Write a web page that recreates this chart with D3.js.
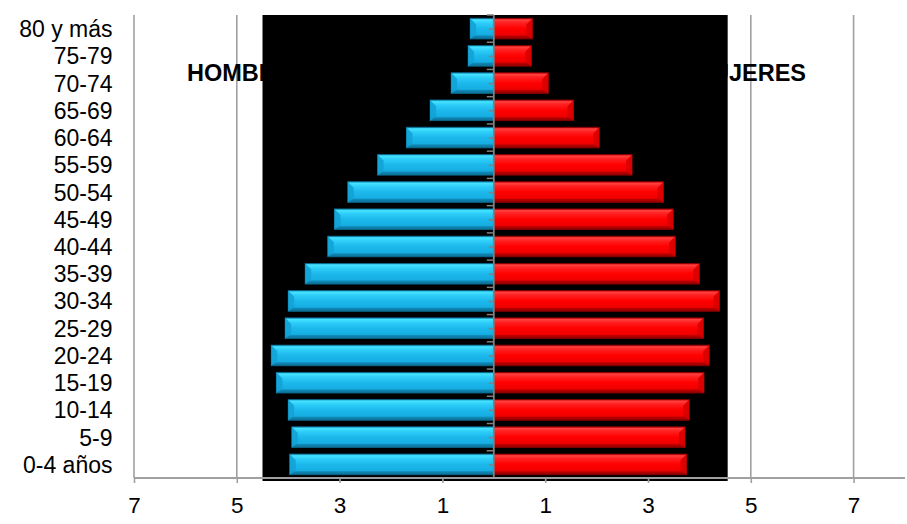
<!DOCTYPE html>
<html>
<head>
<meta charset="utf-8">
<script src="https://cdn.jsdelivr.net/npm/d3@7"></script>
<style>
  html, body { margin: 0; padding: 0; background: #fff; }
  svg { display: block; font-family: "Liberation Sans", Arial, sans-serif; }
</style>
</head>
<body>
<svg id="chart" width="907" height="524"></svg>
<script>
// Data (top to bottom as drawn)
const categories = ["80 y más","75-79","70-74","65-69","60-64","55-59","50-54","45-49","40-44","35-39","30-34","25-29","20-24","15-19","10-14","5-9","0-4 años"];
const hombres = [0.46,0.50,0.83,1.24,1.70,2.26,2.84,3.10,3.23,3.67,4.00,4.06,4.33,4.23,4.00,3.93,3.97];
const mujeres = [0.75,0.73,1.06,1.55,2.05,2.69,3.30,3.49,3.53,4.00,4.39,4.08,4.19,4.09,3.80,3.72,3.75];
const tickValues = [-7,-5,-3,-1,1,3,5,7];
const tickLabels = ["7","5","3","1","1","3","5","7"];
const seriesNames = ["HOMBRES","MUJERES"];

const svg = d3.select("#chart");
const x = d3.scaleLinear().domain([-7, 8]).range([134, 905]);
const y = d3.scaleBand().domain(categories).range([15, 478]).paddingInner(0.24).paddingOuter(0.12);
const axisY = 478;

// defs: gradients for bevel look
const defs = svg.append("defs");
function grad(id, stops) {
  const g = defs.append("linearGradient").attr("id", id).attr("x1",0).attr("y1",0).attr("x2",0).attr("y2",1);
  stops.forEach(s => g.append("stop").attr("offset", s[0]).attr("stop-color", s[1]));
}
grad("gBlue", [[0,"#1a9fd0"],[0.08,"#45e3ff"],[0.22,"#2fcff9"],[0.5,"#1cb8ec"],[0.8,"#16aee2"],[0.86,"#0f87b5"],[1,"#0c6f95"]]);
grad("gRed", [[0,"#c80000"],[0.08,"#ff4040"],[0.22,"#ff2020"],[0.5,"#ff0000"],[0.8,"#f00000"],[0.86,"#b80000"],[1,"#900000"]]);

// gridlines
svg.append("g").selectAll("line").data(tickValues).join("line")
  .attr("x1", d => x(d)).attr("x2", d => x(d))
  .attr("y1", 15).attr("y2", axisY)
  .attr("stroke", "#a0a0a0").attr("stroke-width", 1.6);

// series titles (behind the black panel)
svg.append("text").attr("x", 187).attr("y", 81)
  .attr("font-size", 23.5).attr("font-weight", "bold").attr("fill", "#000")
  .text(seriesNames[0]);
svg.append("text").attr("x", 806).attr("y", 81).attr("text-anchor", "end")
  .attr("font-size", 23.5).attr("font-weight", "bold").attr("fill", "#000")
  .text(seriesNames[1]);

// black panel
svg.append("rect")
  .attr("x", x(-4.5)).attr("y", 15)
  .attr("width", x(4.55) - x(-4.5)).attr("height", axisY + 3 - 15)
  .attr("fill", "#000");

const bh = y.bandwidth();
// male bars
const gm = svg.append("g");
categories.forEach((c, i) => {
  const x0 = x(-hombres[i]), x1 = x(0), y0 = y(c);
  gm.append("rect").attr("x", x0).attr("y", y0).attr("width", x1 - x0).attr("height", bh)
    .attr("fill", "url(#gBlue)").attr("stroke", "#0b6a8e").attr("stroke-width", 0.8);
  gm.append("path")
    .attr("d", `M${x0},${y0} L${x0+6},${y0+bh*0.3} L${x0+6},${y0+bh*0.8} L${x0},${y0+bh} Z`)
    .attr("fill", "#13a2d6").attr("opacity", 0.9);
});
// female bars
const gf = svg.append("g");
categories.forEach((c, i) => {
  const x0 = x(0), x1 = x(mujeres[i]), y0 = y(c);
  gf.append("rect").attr("x", x0).attr("y", y0).attr("width", x1 - x0).attr("height", bh)
    .attr("fill", "url(#gRed)").attr("stroke", "#8a0000").attr("stroke-width", 0.8);
  gf.append("path")
    .attr("d", `M${x1},${y0} L${x1-6},${y0+bh*0.3} L${x1-6},${y0+bh*0.8} L${x1},${y0+bh} Z`)
    .attr("fill", "#d80000").attr("opacity", 0.9);
});

// center category axis
const ca = svg.append("g");
const bounds = y.domain().map(c => y(c) - y.step()*y.paddingInner()/2).concat([axisY]);
ca.selectAll("line.b").data(bounds).join("line")
  .attr("x1", x(0) - 7).attr("x2", x(0)).attr("y1", d => d).attr("y2", d => d)
  .attr("stroke", "#808080").attr("stroke-width", 1.5);
ca.selectAll("line.m").data(categories).join("line")
  .attr("x1", x(0) - 5).attr("x2", x(0)).attr("y1", d => y(d) + bh/2 + 0.5).attr("y2", d => y(d) + bh/2 + 0.5)
  .attr("stroke", "#808080").attr("stroke-width", 1.5);
ca.append("line").attr("x1", x(0)).attr("x2", x(0)).attr("y1", 15).attr("y2", axisY)
  .attr("stroke", "#808080").attr("stroke-width", 1.8);

// category labels
svg.append("g").selectAll("text").data(categories).join("text")
  .attr("x", 112.5).attr("y", d => y(d) + bh/2 + 8.5)
  .attr("text-anchor", "end").attr("font-size", 23).attr("fill", "#000")
  .text(d => d);

// bottom axis
const xAxis = d3.axisBottom(x).tickValues(tickValues).tickFormat((d, i) => tickLabels[i]).tickSize(5).tickPadding(14);
const ax = svg.append("g").attr("transform", `translate(0,${axisY})`).call(xAxis);
ax.select(".domain").attr("stroke", "#a0a0a0").attr("stroke-width", 2).attr("d", `M${x(-7)},0H${x(8)}`);
ax.selectAll(".tick line").attr("stroke", "#a0a0a0").attr("stroke-width", 1.6);
ax.selectAll(".tick text").attr("font-size", 22.5).attr("fill", "#000")
  .attr("font-family", "'Liberation Sans', Arial, sans-serif");
</script>
</body>
</html>
